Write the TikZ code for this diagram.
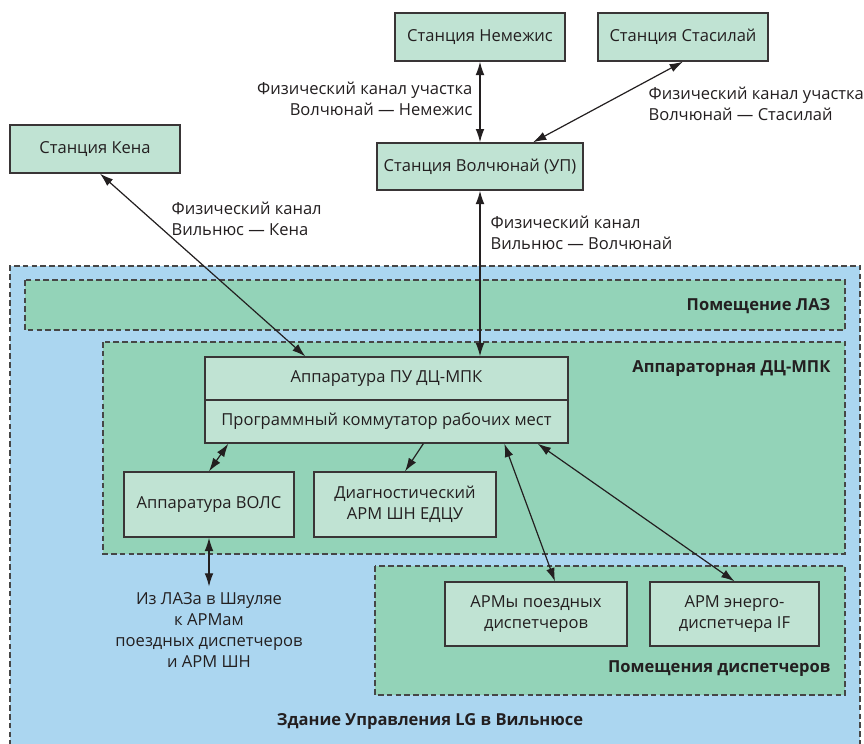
\documentclass[tikz,border=0pt]{standalone}
\usepackage{fontspec}
\setmainfont{Open Sans}
\usepackage{xcolor}
\definecolor{Col1}{RGB}{35,31,32}
\definecolor{Col2}{RGB}{192,227,211}
\definecolor{Col3}{RGB}{147,211,184}
\definecolor{Col4}{RGB}{171,214,240}
\definecolor{Col5}{RGB}{70,70,70}
\usepackage{tikz}
\usetikzlibrary{arrows.meta}
\tikzstyle{Node}=[rectangle,draw=Col1!90,fill=Col2,line width=1pt,
inner sep=2pt,text=Col1,align=center,font=\fontsize{12.4}{15.9}\selectfont]
\tikzstyle{Edge}=[draw=Col1,line width=0.9pt,{Latex[length=10pt,width=6.5pt]}-{Latex[length=10pt,width=6.5pt]}]
\tikzstyle{EdgeF}=[Edge,-{Latex[length=10pt,width=6.5pt]}]
\tikzstyle{Room}=[fill=Col3,draw=Col5,line width=0.8pt,dash pattern=on 4.2pt off 2.4pt]
\tikzstyle{NodeST}=[text=Col1,inner sep=1pt,font=\fontsize{12.4}{15.9}\selectfont]
\tikzstyle{NodeRT}=[NodeST,anchor=east,font=\fontsize{12.4}{15.9}\selectfont\bfseries]

\begin{document}
\begin{tikzpicture}[x=0.75pt,y=-0.75pt]
        \useasboundingbox[fill=white](0,0)rectangle(864,743);
        % rooms
        \fill[Col4](10,266)rectangle(860,746);
        \draw[Room,fill=none](10,746)--(10,266)--(860,266)--(860,746);
        \draw[Room](25,280)rectangle(845,330);
        \draw[Room](103,342)rectangle(845,554);
        \draw[Room](375,566)rectangle(845,695);
        \node[NodeRT](laz)at(832,306){Помещение ЛАЗ};
        \node[NodeRT](dc)at(832,369){Аппараторная ДЦ-МПК};
        \node[NodeRT](disp)at(832,669){Помещения диспетчеров};
        \node[NodeRT,anchor=center](bld)at(430,721){Здание Управления LG в Вильнюсе};
        % stations
        \node[Node,minimum width=127.5pt,minimum height=36pt](kena)at(95,149){Станция Кена};
        \node[Node,minimum width=127.5pt,minimum height=36pt](nem)at(480,37){Станция Немежис};
        \node[Node,minimum width=127.5pt,minimum height=36pt](stas)at(683,37){Станция Стасилай};
        \node[Node,minimum width=154.5pt,minimum height=35.25pt](volch)at(480,166.5){Станция Волчюнай (УП)};
        % equipment
        \node[Node,minimum width=272.25pt,minimum height=32.25pt](pu)at(386.5,378.5){Аппаратура ПУ ДЦ-МПК};
        \node[Node,minimum width=272.25pt,minimum height=32.25pt](prog)at(386.5,421.5){Программный коммутатор рабочих мест};
        \node[Node,minimum width=127.5pt,minimum height=48.75pt](vols)at(209,504.5){Аппаратура ВОЛС};
        \node[Node,minimum width=136.5pt,minimum height=48.75pt](diag)at(405,504.5){Диагностический\\АРМ ШН ЕДЦУ};
        \node[Node,minimum width=136.5pt,minimum height=48pt](army)at(536,614){АРМы поездных\\диспетчеров};
        \node[Node,minimum width=126.75pt,minimum height=48pt](energo)at(734.5,614){АРМ энерго-\\диспетчера IF};
        % channel labels
        \node[NodeST,anchor=east,align=right](lnem)at(474,99){Физический канал участка\\Волчюнай — Немежис};
        \node[NodeST,anchor=west,align=left](lstas)at(647,104){Физический канал участка\\Волчюнай — Стасилай};
        \node[NodeST,anchor=west,align=left](lkena)at(170,218.5){Физический канал\\Вильнюс — Кена};
        \node[NodeST,anchor=west,align=left](lvolch)at(489,233){Физический канал\\Вильнюс — Волчюнай};
        \node[NodeST,align=center,inner sep=4pt](shy)at(209,630){Из ЛАЗа в Шяуляе\\к АРМам\\поездных диспетчеров\\и АРМ ШН};
        % links
        \draw[Edge]([xshift=3.75pt]kena.south)--([xshift=75.75pt]pu.north west);
        \draw[Edge](nem.south)--(volch.north);
        \draw[Edge](stas.south)--([xshift=39.75pt]volch.north);
        \draw[Edge](volch.south)--(volch.south|-pu.north);
        \draw[Edge](vols.north)--([xshift=18pt]prog.south west);
        \draw[EdgeF]([xshift=164.25pt]prog.south west)--(diag.north);
        \draw[Edge]([xshift=225pt]prog.south west)--([xshift=14.25pt]army.north);
        \draw[Edge]([xshift=-23.25pt]prog.south east)--(energo.north);
        \draw[Edge](vols.south)--(shy.north);
    \end{tikzpicture}
\end{document}
